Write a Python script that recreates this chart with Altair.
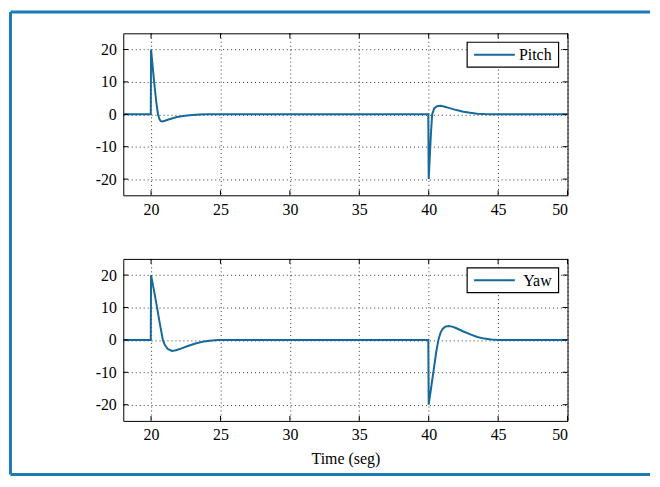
import altair as alt
import pandas as pd

# ---- data ----
t_pitch = [18, 19.98, 20.0, 20.1, 20.2, 20.3, 20.4, 20.5, 20.6, 20.7, 20.8, 21.0, 21.2, 21.5,
           21.8, 22.2, 22.6, 23.0, 23.5, 24.0, 39.97, 40.0, 40.08, 40.16, 40.25, 40.4, 40.6,
           40.85, 41.1, 41.5, 42.0, 42.5, 43.0, 43.5, 44.0, 44.5, 50]
v_pitch = [0, 0, 20, 15.5, 11, 6.8, 3.0, 0.0, -1.5, -2.1, -2.2, -2.0, -1.7, -1.3,
           -0.9, -0.6, -0.35, -0.2, -0.08, 0, 0, -20, -13, -6, 0, 1.8, 2.5,
           2.6, 2.4, 1.9, 1.3, 0.8, 0.45, 0.2, 0.07, 0, 0]

t_yaw = [18, 19.98, 20.0, 20.2, 20.4, 20.6, 20.85, 21.0, 21.2, 21.5, 21.8, 22.2, 22.7, 23.2,
         23.7, 24.2, 24.8, 25.5, 39.97, 40.0, 40.2, 40.4, 40.55, 40.7, 40.85, 41.0, 41.2,
         41.4, 41.7, 42.0, 42.5, 43.0, 43.5, 44.0, 44.5, 45.0, 50]
v_yaw = [0, 0, 20, 15.5, 10.8, 5.8, 0, -1.6, -2.8, -3.4, -3.2, -2.6, -1.8, -1.1,
         -0.6, -0.25, -0.05, 0, 0, -20, -14, -8, -3.5, 0, 2.2, 3.4, 4.1,
         4.3, 4.1, 3.6, 2.6, 1.7, 0.9, 0.4, 0.1, 0, 0]

series = ["Pitch", "Yaw"]
x_ticks = [20, 25, 30, 35, 40, 45, 50]
y_ticks = [-20, -10, 0, 10, 20]
x_title = "Time (seg)"

# ---- style ----
LINE = "#17699a"
FRAME = "#1c7ab4"
FONT = "Liberation Serif"
W, H = 447, 163
TICK = 5

x_scale = alt.Scale(domain=[18, 50], nice=False, zero=False)
y_scale = alt.Scale(domain=[-25, 25], nice=False, zero=False)
color_scale = alt.Scale(domain=series, range=[LINE, LINE])

AX = dict(labelFont=FONT, labelFontSize=16, labelColor="black", grid=True,
          gridColor="black", gridDash=[1, 3], gridOpacity=0.8, gridWidth=1,
          domain=False, ticks=False)


def panel(name, ts, vs, show_title, frame=False):
    df = pd.DataFrame({"t": ts, "v": vs, "s": name})
    if show_title:
        xaxis = alt.Axis(values=x_ticks, labelPadding=6, title=x_title, titlePadding=8,
                         titleFont=FONT, titleFontSize=16, titleFontWeight="normal",
                         titleColor="black", **AX)
    else:
        xaxis = alt.Axis(values=x_ticks, labelPadding=6, title=None, **AX)
    yaxis = alt.Axis(values=y_ticks, labelPadding=7, title=None,
                     labelExpr="'' + datum.value", **AX)

    X = alt.X("t:Q", scale=x_scale, axis=xaxis)
    Y = alt.Y("v:Q", scale=y_scale, axis=yaxis)

    line = alt.Chart(df).mark_line(strokeWidth=2, clip=True).encode(
        x=X, y=Y,
        color=alt.Color("s:N", scale=color_scale, legend=None),
    )

    xt = pd.DataFrame({"t": x_ticks})
    yt = pd.DataFrame({"v": y_ticks})
    xt_bot = alt.Chart(xt).mark_rule(color="black", strokeWidth=1).encode(
        x=X, y=alt.value(H - TICK), y2=alt.value(H))
    xt_top = alt.Chart(xt).mark_rule(color="black", strokeWidth=1).encode(
        x=X, y=alt.value(0), y2=alt.value(TICK))
    yt_left = alt.Chart(yt).mark_rule(color="black", strokeWidth=1).encode(
        y=Y, x=alt.value(0), x2=alt.value(TICK))
    yt_right = alt.Chart(yt).mark_rule(color="black", strokeWidth=1).encode(
        y=Y, x=alt.value(W - TICK), x2=alt.value(W))

    leg = pd.DataFrame({"s": [name]})
    leg_box = alt.Chart(leg).mark_rect(fill="white", stroke="black", strokeWidth=1.2).encode(
        x=alt.value(346), x2=alt.value(438), y=alt.value(9), y2=alt.value(34))
    leg_line = alt.Chart(leg).mark_rule(strokeWidth=2).encode(
        x=alt.value(353), x2=alt.value(394), y=alt.value(21.5),
        color=alt.Color("s:N", scale=color_scale, legend=None))
    leg_text = alt.Chart(leg).mark_text(align="right", baseline="middle", font=FONT,
                                        fontSize=16, color="black").encode(
        x=alt.value(431), y=alt.value(22), text="s:N")

    layers = [line, xt_bot, xt_top, yt_left, yt_right, leg_box, leg_line, leg_text]

    if frame:
        fr = pd.DataFrame({"k": [0]})
        top = alt.Chart(fr).mark_rule(color=FRAME, strokeWidth=3).encode(
            x=alt.value(-113.5), x2=alt.value(530), y=alt.value(-21.5))
        bottom = alt.Chart(fr).mark_rule(color=FRAME, strokeWidth=3).encode(
            x=alt.value(-113.5), x2=alt.value(530), y=alt.value(444))
        left = alt.Chart(fr).mark_rule(color=FRAME, strokeWidth=3).encode(
            x=alt.value(-113.5), y=alt.value(-21.5), y2=alt.value(444))
        layers += [top, bottom, left]

    return alt.layer(*layers).properties(width=W, height=H)


top_panel = panel("Pitch", t_pitch, v_pitch, False, frame=True)
bottom_panel = panel("Yaw", t_yaw, v_yaw, True)

chart = alt.vconcat(top_panel, bottom_panel, spacing=64, bounds="flush").properties(
    padding=0, background="white"
).configure_view(
    stroke="black", strokeWidth=1
).configure_axis(
    labelFont=FONT, labelFontSize=16, labelColor="black",
    titleFont=FONT, titleFontSize=16, titleFontWeight="normal", titleColor="black",
)

chart.save("out.html", embed_options={"renderer": "svg", "actions": False})
